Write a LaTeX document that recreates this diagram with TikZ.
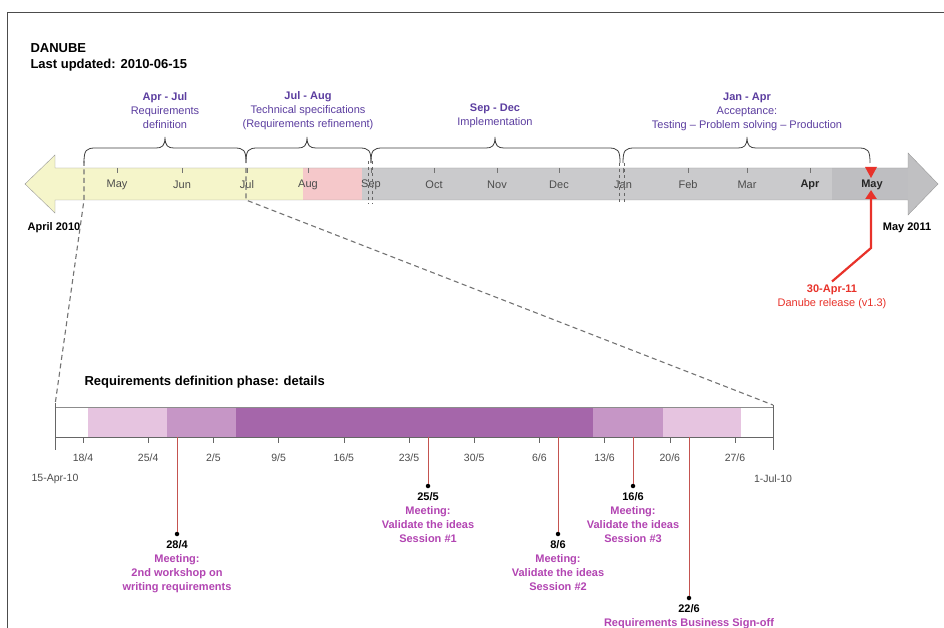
\documentclass[tikz,border=0pt]{standalone}
\usepackage{fontspec}
\setmainfont{Liberation Sans}
\usetikzlibrary{positioning,arrows.meta}

\definecolor{phasetext}{RGB}{92,62,160}
\definecolor{mstext}{RGB}{178,68,178}
\definecolor{mslink}{RGB}{196,84,80}
\definecolor{relred}{RGB}{232,50,42}
\definecolor{reqyellow}{RGB}{245,245,202}
\definecolor{specpink}{RGB}{245,200,202}
\definecolor{implgray}{RGB}{202,202,204}
\definecolor{accgray}{RGB}{190,190,193}
\definecolor{barlight}{RGB}{230,196,224}
\definecolor{barmid}{RGB}{198,150,198}
\definecolor{bardark}{RGB}{165,102,170}

\tikzset{
	monthlab/.style={font=\fontsize{11}{13}\selectfont, text=black!70},
	daylab/.style={font=\fontsize{10.5}{13}\selectfont, text=black!70},
	phaselab/.style={font=\fontsize{11}{14}\selectfont, text=phasetext, align=center},
	endlab/.style={font=\fontsize{11}{13}\selectfont\bfseries},
	zoomline/.style={black!55, line width=1.1pt, dash pattern=on 5pt off 3.5pt},
	msdot/.style={circle, fill=black, inner sep=0pt, minimum size=4.5pt},
	mslab/.style={font=\fontsize{11}{14}\selectfont\bfseries, text=mstext, align=center, inner sep=1pt},
}

\newcommand{\phasebrace}[3]{%
	\draw[black!75, thick] (#1,163) .. controls (#1,150) and (#1+2,148) .. (#1+12,148)
		-- (#2-9,148) .. controls (#2-3,148) and (#2,146) .. (#2,137)
		.. controls (#2,146) and (#2+3,148) .. (#2+9,148)
		-- (#3-12,148) .. controls (#3-2,148) and (#3,150) .. (#3,163);}

\begin{document}
\begin{tikzpicture}[x=1pt, y=-1pt]
	\useasboundingbox (0,0) rectangle (944,628);
	\fill[white] (0,0) rectangle (944,628);
	\draw[black!70, thick] (7,628) -- (7,12) -- (944,12);
	%%%%%%%%%%%%%%%%%%%%%%%%%%%%%%%%
	\node[anchor=west, font=\fontsize{13}{15}\selectfont\bfseries] (title) at (27,48) {DANUBE};
	\node[anchor=west, font=\fontsize{13}{15}\selectfont\bfseries] (updated) at (27,65) {Last updated: 2010-06-15};
	%%%%%%%%%%%%%%%%%%%%%%%%%%%%%%%%
	% main time arrow
	\begin{scope}
		\clip (25,184) -- (55,155) -- (55,168) -- (908,168) -- (908,153) -- (938,184)
			-- (908,215) -- (908,200) -- (55,200) -- (55,213) -- cycle;
		\fill[reqyellow] (20,150) rectangle (303,220);
		\fill[specpink] (303,150) rectangle (362,220);
		\fill[implgray] (362,150) rectangle (832,220);
		\fill[accgray] (832,150) rectangle (908,220);
		\fill[implgray!95!black] (908,150) rectangle (940,220);
	\end{scope}
	\draw[black!40] (25,184) -- (55,155) -- (55,168) -- (908,168) -- (908,153) -- (938,184)
		-- (908,215) -- (908,200) -- (55,200) -- (55,213) -- cycle;
	\foreach \x/\m [count=\i] in {117/May,182/Jun,247/Jul,308/Aug,371/Sep,434/Oct,497/Nov,559/Dec,623/Jan,688/Feb,747/Mar}{
		\draw[black!55] (\x,168) -- (\x,173);
		\node[monthlab] (m\i) at (\x,185) {\m};
	}
	\draw[black!55] (810,168) -- (810,173);
	\node[monthlab, font=\fontsize{11}{13}\selectfont\bfseries, text=black!85] (m12) at (810,185) {Apr};
	\node[monthlab, font=\fontsize{11}{13}\selectfont\bfseries, text=black!85] (m13) at (872,185) {May};
	\node[endlab] (start) at (54,228) {April 2010};
	\node[endlab] (stop) at (907,228) {May 2011};
	%%%%%%%%%%%%%%%%%%%%%%%%%%%%%%%%
	% phase boundaries
	\draw[dashed, black!60] (368,161) -- (368,204);
	\draw[dashed, black!60] (372,161) -- (372,204);
	\draw[dashed, black!60] (619,163) -- (619,203);
	\draw[dashed, black!60] (624,163) -- (624,203);
	\phasebrace{84}{165}{246}
	\phasebrace{246}{307}{371}
	\phasebrace{371}{495}{620}
	\phasebrace{623}{747}{870}
	\node[phaselab] (ph1) at (165,111) {\textbf{Apr - Jul}\\Requirements\\definition};
	\node[phaselab] (ph2) at (308,111) {\textbf{Jul - Aug}\\Technical specifications\\(Requirements refinement)};
	\node[phaselab] (ph3) at (495,116) {\textbf{Sep - Dec}\\Implementation};
	\node[phaselab] (ph4) at (747,112) {\textbf{Jan - Apr}\\Acceptance:\\Testing – Problem solving – Production};
	%%%%%%%%%%%%%%%%%%%%%%%%%%%%%%%%
	% release
	\fill[relred] (865,167) -- (877,167) -- (871,178) -- cycle;
	\node[text=relred, align=center, font=\fontsize{11}{14}\selectfont] (rel) at (832,297) {\textbf{30-Apr-11}\\Danube release (v1.3)};
	\coordinate (relknee) at (871,248);
	\coordinate (reltip) at (871,190);
	\draw[relred, line width=2.2pt, -{Triangle[length=9pt,width=11pt]}] (rel.north) -- (relknee) -- (reltip);
	%%%%%%%%%%%%%%%%%%%%%%%%%%%%%%%%
	% zoom into the requirements phase
	\coordinate (reqtop) at (84,161);
	\coordinate (reqbot) at (84,200);
	\coordinate (jultop) at (246,168);
	\coordinate (julbot) at (246,200);
	\coordinate (barL) at (55,405);
	\coordinate (barR) at (773,405);
	\draw[zoomline] (reqtop) -- (reqbot) -- (barL);
	\draw[zoomline] (jultop) -- (julbot) -- (barR);
	%%%%%%%%%%%%%%%%%%%%%%%%%%%%%%%%
	\node[anchor=west, font=\fontsize{13}{15}\selectfont\bfseries] (detail) at (81,382) {Requirements definition phase: details};
	\fill[barlight] (88,407) rectangle (167,437);
	\fill[barmid] (167,407) rectangle (236,437);
	\fill[bardark] (236,407) rectangle (593,437);
	\fill[barmid] (593,407) rectangle (663,437);
	\fill[barlight] (663,407) rectangle (741,437);
	\draw[black!45] (55,407) -- (773,407);
	\draw[black!60, thick] (55,403) -- (55,450);
	\draw[black!60, thick] (773,405) -- (773,450);
	\draw[black!60, thick] (55,437) -- (773,437);
	\foreach \d/\mo [count=\i from 0] in {18/4,25/4,2/5,9/5,16/5,23/5,30/5,6/6,13/6,20/6,27/6}{
		\draw[black!60] (83+65.2*\i,437) -- (83+65.2*\i,443);
		\node[daylab] (w\i) at (83+65.2*\i,458) {\d/\mo};
	}
	\node[daylab] (from) at (55,479) {15-Apr-10};
	\node[daylab] (to) at (773,479) {1-Jul-10};
	%%%%%%%%%%%%%%%%%%%%%%%%%%%%%%%%
	% meetings
	\foreach \x/\y/\dd/\mm/\txt [count=\i] in {
		177/534/28/4/{Meeting:\\2nd workshop on\\writing requirements},
		428/486/25/5/{Meeting:\\Validate the ideas\\Session \#1},
		558/534/8/6/{Meeting:\\Validate the ideas\\Session \#2},
		633/486/16/6/{Meeting:\\Validate the ideas\\Session \#3},
		689/598/22/6/{Requirements Business Sign-off}}{
		\coordinate (top\i) at (\x,437);
		\node[msdot] (dot\i) at (\x,\y) {};
		\node[mslab, below=3pt of dot\i] (ms\i) {\textcolor{black}{\dd/\mm}\\\txt};
		\draw[mslink] (top\i) -- (dot\i);
	}
\end{tikzpicture}
\end{document}
